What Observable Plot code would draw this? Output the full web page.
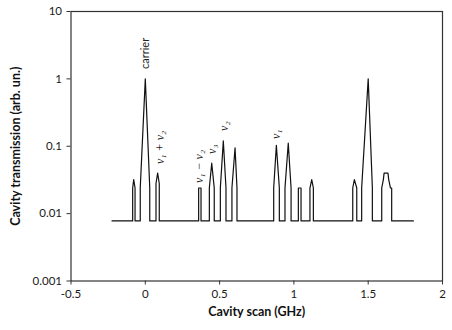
<!DOCTYPE html>
<html><head><meta charset="utf-8">
<script src="https://cdn.jsdelivr.net/npm/d3@7"></script>
<script src="https://cdn.jsdelivr.net/npm/@observablehq/plot@0.6"></script>
<style>body{margin:0;background:#fff}</style>
</head><body><div id="chart"></div>
<script>
// Cavity scan (GHz) and transmission (arb. un.)
const scanGHz = [
  -0.224, -0.085, -0.085, -0.078, -0.069, -0.069,
  -0.034, -0.034, 0.000, 0.030, 0.030,
  0.072, 0.072, 0.083, 0.094, 0.094,
  0.359, 0.359, 0.375, 0.375,
  0.431, 0.431, 0.447, 0.464, 0.464,
  0.505, 0.505, 0.525, 0.543, 0.543,
  0.583, 0.583, 0.604, 0.617, 0.617,
  0.864, 0.864, 0.882, 0.902, 0.902,
  0.940, 0.940, 0.962, 0.981, 0.981,
  1.030, 1.030, 1.048, 1.048,
  1.108, 1.108, 1.120, 1.131, 1.131,
  1.396, 1.396, 1.407, 1.423, 1.423,
  1.456, 1.456, 1.500, 1.528, 1.528,
  1.591, 1.591, 1.602, 1.607, 1.633, 1.638, 1.650, 1.658, 1.658,
  1.804
];
const transmission = [
  0.0078, 0.0078, 0.024, 0.032, 0.024, 0.0078,
  0.0078, 0.024, 1.0, 0.024, 0.0078,
  0.0078, 0.028, 0.040, 0.028, 0.0078,
  0.0078, 0.024, 0.024, 0.0078,
  0.0078, 0.024, 0.056, 0.024, 0.0078,
  0.0078, 0.024, 0.12, 0.024, 0.0078,
  0.0078, 0.024, 0.095, 0.024, 0.0078,
  0.0078, 0.024, 0.103, 0.024, 0.0078,
  0.0078, 0.024, 0.111, 0.024, 0.0078,
  0.0078, 0.024, 0.024, 0.0078,
  0.0078, 0.024, 0.032, 0.024, 0.0078,
  0.0078, 0.024, 0.032, 0.024, 0.0078,
  0.0078, 0.024, 1.0, 0.024, 0.0078,
  0.0078, 0.024, 0.032, 0.040, 0.040, 0.032, 0.024, 0.024, 0.0078,
  0.0078
];
const peakLabels = ["carrier", "ν₁ + ν₂", "ν₁ − ν₂", "ν₃", "ν₂", "ν₁"];
const peakLabelX = [0.004, 0.099, 0.361, 0.452, 0.533, 0.883];
const peakLabelY = [1.4, 0.0546, 0.0285, 0.0769, 0.169, 0.128];
const xTicks = [-0.5, 0, 0.5, 1, 1.5, 2];
const xTickLabels = ["-0.5", "0", "0.5", "1", "1.5", "2"];
const yTicks = [0.001, 0.01, 0.1, 1, 10];
const yTickLabels = ["0.001", "0.01", "0.1", "1", "10"];
const xTitle = "Cavity scan (GHz)";
const yTitle = "Cavity transmission (arb. un.)";

const series = scanGHz.map((x, i) => ({x, y: transmission[i]}));
const labels = peakLabels.map((t, i) => ({t, x: peakLabelX[i], y: peakLabelY[i], math: i > 0}));

const plot = Plot.plot({
  width: 452, height: 330,
  marginLeft: 70.5, marginRight: 10, marginTop: 11, marginBottom: 49.5,
  style: {fontFamily: "Lato, 'Open Sans', sans-serif", fontSize: "11.5px", color: "#1a1a1a", background: "#fff"},
  x: {type: "linear", domain: [-0.5, 2]},
  y: {type: "log", domain: [0.001, 10]},
  marks: [
    Plot.frame({stroke: "#333", strokeWidth: 1.2}),
    Plot.axisX({ticks: xTicks, tickFormat: d => xTickLabels[xTicks.indexOf(d)], tickSize: 4, tickPadding: 5, label: null, stroke: "#333"}),
    Plot.axisY({ticks: yTicks, tickFormat: d => yTickLabels[yTicks.findIndex(v => Math.abs(v - d) < v * 1e-6)], tickSize: 4, tickPadding: 5, label: null, stroke: "#333"}),
    Plot.line(series, {x: "x", y: "y", stroke: "#111", strokeWidth: 1.2}),
    Plot.text(labels.filter(d => !d.math), {x: "x", y: "y", text: "t", rotate: -90, textAnchor: "start", fontSize: 11, fill: "#222"}),
    Plot.text(labels.filter(d => d.math), {x: "x", y: "y", text: "t", rotate: -90, textAnchor: "start", fontSize: 12, fill: "#222", fontFamily: "'Liberation Serif', 'DejaVu Serif', serif", fontStyle: "italic"}),
    Plot.text([xTitle], {frameAnchor: "bottom", dy: 31, textAnchor: "middle", lineAnchor: "middle", fontWeight: "bold", fontSize: 12.5, fill: "#111"}),
    Plot.text([yTitle], {frameAnchor: "left", dx: -55.5, rotate: -90, textAnchor: "middle", lineAnchor: "middle", fontWeight: "bold", fontSize: 12.5, fill: "#111"})
  ]
});
document.getElementById("chart").appendChild(plot);
</script>
</body></html>
